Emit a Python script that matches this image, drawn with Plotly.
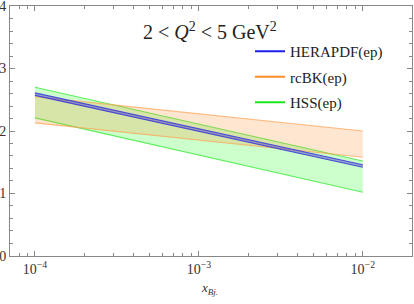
import plotly.graph_objects as go

# Data (x in x_Bj)
x_pts = [1e-4, 1e-3, 1e-2]
hera_hi = [2.61, 2.04, 1.46]
hera_lo = [2.57, 2.00, 1.42]
rcbk_hi = [2.55, 2.27, 2.00]
rcbk_lo = [2.13, 1.85, 1.58]
hss_hi = [2.70, 2.11, 1.52]
hss_lo = [2.21, 1.61, 1.02]

names = ["HERAPDF(ep)", "rcBK(ep)", "HSS(ep)"]
line_cols = ["rgb(30,30,235)", "rgb(255,140,40)", "rgb(30,230,30)"]

x_major = [1e-4, 1e-3, 1e-2]
x_major_text = ["10<sup>−4</sup>", "10<sup>−3</sup>", "10<sup>−2</sup>"]
x_minor = [m * 10 ** e for e in (-5, -4, -3, -2) for m in range(2, 10)]
y_major = [0, 1, 2, 3, 4]
y_minor = [i * 0.2 for i in range(21)]

SERIF = "Liberation Serif, Times New Roman, serif"

fig = go.Figure()

def band(lo, hi, edge, fillc):
    fig.add_trace(go.Scatter(x=x_pts, y=lo, mode="lines",
                             line=dict(color=edge, width=1.2),
                             showlegend=False, hoverinfo="skip"))
    fig.add_trace(go.Scatter(x=x_pts, y=hi, mode="lines", fill="tonexty",
                             fillcolor=fillc, line=dict(color=edge, width=1.2),
                             showlegend=False, hoverinfo="skip"))

band(hss_lo, hss_hi, "rgba(60,235,60,0.8)", "rgba(0,255,0,0.2)")
band(rcbk_lo, rcbk_hi, "rgba(255,160,80,0.7)", "rgba(255,140,40,0.22)")
band(hera_lo, hera_hi, "rgba(60,60,220,0.9)", "rgba(80,60,200,0.45)")

# legend entries
for i, (n, c) in enumerate(zip(names, line_cols)):
    fig.add_trace(go.Scatter(x=[None], y=[None], mode="lines", name=n,
                             legendgroup=n, line=dict(color=c, width=2)))

fig.add_annotation(x=0.4975, y=0.90, xref="paper", yref="paper", yanchor="middle",
                   text="2 &lt; <i>Q</i><sup>2</sup> &lt; 5 GeV<sup>2</sup>",
                   showarrow=False, font=dict(family=SERIF, size=20, color="#222"))
fig.add_annotation(x=0.4975, y=-0.128, xref="paper", yref="paper", yanchor="middle",
                   text="<i>x</i><sub><i>Bj.</i></sub>", showarrow=False,
                   font=dict(family=SERIF, size=13, color="#333"))

axis_common = dict(showline=True, linecolor="#888", linewidth=1, mirror="ticks",
                   ticks="inside", tickcolor="#888", showgrid=False, zeroline=False,
                   automargin=False, ticklabeloverflow="allow",
                   tickfont=dict(family=SERIF, size=14, color="#333"))

fig.update_xaxes(type="log", range=[-4.152, -1.70], tickvals=x_major,
                 ticktext=x_major_text, ticklen=5,
                 minor=dict(tickvals=x_minor, ticks="inside", ticklen=3, tickcolor="#888"),
                 **axis_common)
fig.update_yaxes(range=[-0.0005, 4.0005], tickvals=y_major, ticklen=5,
                 minor=dict(tickvals=y_minor, ticks="inside", ticklen=3, tickcolor="#888"),
                 **axis_common)

fig.update_layout(width=414, height=304, margin=dict(l=10, r=2, t=6, b=48),
                  plot_bgcolor="white", paper_bgcolor="white",
                  font=dict(family=SERIF),
                  legend=dict(x=0.597, y=0.884, xanchor="left", yanchor="top",
                              bgcolor="rgba(0,0,0,0)", tracegroupgap=3,
                              font=dict(family=SERIF, size=15, color="#222")))

fig.write_html("out.html", config={"displayModeBar": False},
               post_script="document.body.style.margin='0';")
